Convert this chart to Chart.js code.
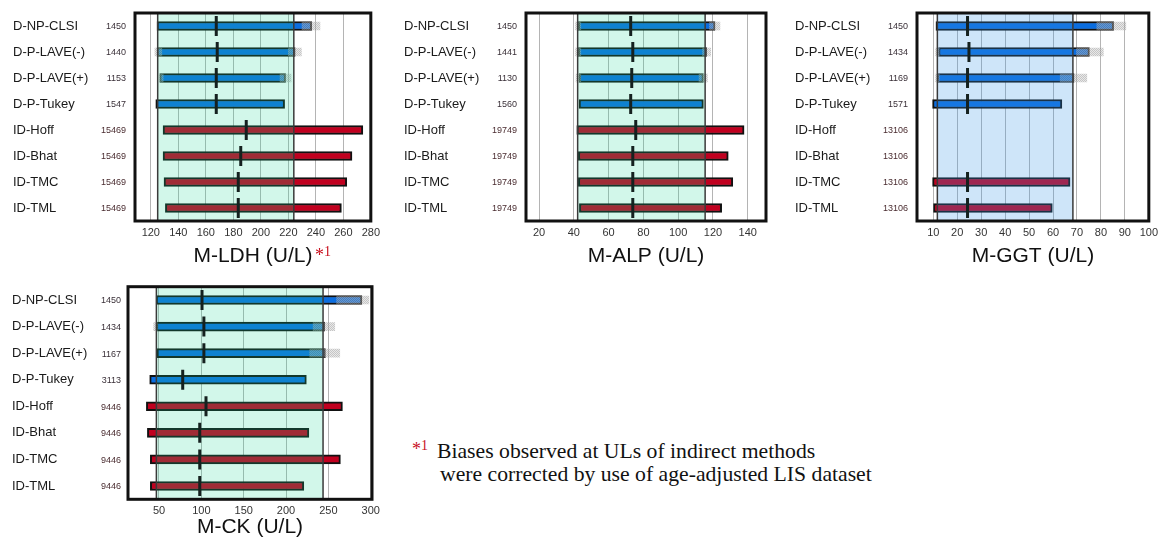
<!DOCTYPE html>
<html><head><meta charset="utf-8">
<script src="https://cdn.jsdelivr.net/npm/chart.js@4"></script>
<style>
body{margin:0;background:#fff;}
#wrap{position:relative;width:1163px;height:545px;overflow:hidden;background:#fff;}
.pane{position:absolute;}
.mark{position:absolute;font-family:"Liberation Serif","Times New Roman",serif;color:#c8101e;white-space:nowrap;}
.foot{position:absolute;font-family:"Liberation Serif","Times New Roman",serif;color:#111;white-space:nowrap;font-size:21.7px;line-height:22px;}
</style></head><body>
<div id="wrap">
  <div class="pane" style="left:0;top:0"><canvas id="c1" width="385" height="270"></canvas></div>
  <div class="pane" style="left:390px;top:0"><canvas id="c2" width="390" height="270"></canvas></div>
  <div class="pane" style="left:780px;top:0"><canvas id="c3" width="383" height="270"></canvas></div>
  <div class="pane" style="left:0;top:270px"><canvas id="c4" width="385" height="275"></canvas></div>
  <div class="mark" style="left:315px;top:245px;font-size:18px">*<span style="font-size:14px;position:relative;top:-5px">1</span></div>
  <div class="mark" style="left:412px;top:439px;font-size:18px">*<span style="font-size:14px;position:relative;top:-5px">1</span></div>
  <div class="foot" style="left:437px;top:440px">Biases observed at ULs of indirect methods</div>
  <div class="foot" style="left:440px;top:463px">were corrected by use of age-adjusted LIS dataset</div>
</div>
<script>
// ---------- data ----------
const categories = ['D-NP-CLSI','D-P-LAVE(-)','D-P-LAVE(+)','D-P-Tukey','ID-Hoff','ID-Bhat','ID-TMC','ID-TML'];

const ldhCounts = ['1450','1440','1153','1547','15469','15469','15469','15469'];
const ldhRange  = [[124.5,237],[124.5,225],[126.5,218],[123.6,217.3],[128.9,274.2],[128.9,266.3],[129.6,262.5],[130.6,258.6]];
const ldhMedian = [167.6,168.3,167.6,167.6,189.4,185.4,183.6,183.6];
const ldhCiLow  = [null,[123,128],[126.5,129],null,null,null,null,null];
const ldhCiHigh = [[230,243],[220,229.5],[214,222],null,null,null,null,null];
const ldhRef    = [125,224];
const ldhTicks  = [120,140,160,180,200,220,240,260,280];

const alpCounts = ['1450','1441','1130','1560','19749','19749','19749','19749'];
const alpRange  = [[42.6,121.2],[42.6,116.4],[43,114.5],[43,114.5],[41.7,137.9],[42.6,128.8],[42.6,131.4],[43.2,125]];
const alpMedian = [72.7,73.9,73.3,72.7,75.6,73.9,73.9,73.9];
const alpCiLow  = [[41,44],[41,44],[41.3,44],null,null,null,null,null];
const alpCiHigh = [[118,124],[114,118.7],[112,116.8],null,null,null,null,null];
const alpRef    = [42.2,115.5];
const alpTicks  = [20,40,60,80,100,120,140];

const ggtCounts = ['1450','1434','1169','1571','13106','13106','13106','13106'];
const ggtRange  = [[11.1,85.3],[12.2,75.2],[11.7,68.8],[9.7,63.7],null,null,[9.7,67.1],[10.1,59.7]];
const ggtMedian = [24.3,24.9,24.3,24.3,null,null,24.3,24.3];
const ggtCiLow  = [null,[11,12.5],[11,12.5],null,null,null,null,null];
const ggtCiHigh = [[78.3,90.4],[69.8,81],[63,74.1],null,null,null,null,null];
const ggtRef    = [11.7,68.3];
const ggtTicks  = [10,20,30,40,50,60,70,80,90,100];

const ckCounts = ['1450','1434','1167','3113','9446','9446','9446','9446'];
const ckRange  = [[46.6,289.6],[47,245.7],[47.6,246.5],[39,224],[35.1,266.6],[36.3,227],[39.8,264.2],[39.8,221]];
const ckMedian = [100.8,103,103,78,105.5,98.1,98.1,98.1];
const ckCiLow  = [null,[43.7,48],null,null,null,null,null,null];
const ckCiHigh = [[259.7,297.8],[232,257.5],[228,263.4],null,null,null,null,null];
const ckRef    = [46.9,243.7];
const ckTicks  = [50,100,150,200,250,300];

// ---------- styling / drawing ----------
Chart.defaults.font.family = '"Liberation Sans", Arial, sans-serif';
const BLUE = '#0a6de0', RED = '#c1001f';

function hatch() {
  const c = document.createElement('canvas'); c.width = 2; c.height = 2;
  const g = c.getContext('2d');
  g.fillStyle = 'rgba(140,140,140,0.5)'; g.fillRect(0,0,1,1); g.fillRect(1,1,1,1);
  g.fillStyle = 'rgba(205,205,205,0.45)'; g.fillRect(1,0,1,1); g.fillRect(0,1,1,1);
  return g.createPattern(c, 'repeat');
}

const decor = {
  id: 'decor',
  beforeDatasetDraw(chart, args, o) {
    if (args.index !== 3) return;
    const {ctx, chartArea: a, scales: {x}} = chart;
    const l = x.getPixelForValue(o.ref[0]), r = x.getPixelForValue(o.ref[1]);
    ctx.save();
    ctx.fillStyle = o.overlay;
    ctx.fillRect(l, a.top, r - l, a.bottom - a.top);
    ctx.strokeStyle = '#3a3a3a'; ctx.lineWidth = 1.5;
    ctx.beginPath();
    ctx.moveTo(l, a.top); ctx.lineTo(l, a.bottom);
    ctx.moveTo(r, a.top); ctx.lineTo(r, a.bottom);
    ctx.stroke();
    ctx.restore();
  },
  afterDraw(chart, args, o) {
    const {ctx, chartArea: a, scales: {y}} = chart;
    ctx.save();
    ctx.strokeStyle = '#111'; ctx.lineWidth = 3;
    ctx.strokeRect(a.left, a.top, a.right - a.left, a.bottom - a.top);
    ctx.font = '9px "Liberation Sans", Arial, sans-serif';
    ctx.textAlign = 'right'; ctx.textBaseline = 'middle';
    o.counts.forEach((t, i) => {
      ctx.fillStyle = categories[i].startsWith('ID') ? '#4a2c30' : '#3a3038';
      ctx.fillText(t, a.left - o.countGap, y.getPixelForValue(i) + 1);
    });
    ctx.restore();
  }
};

function panel(id, d, L) {
  const pat = hatch();
  new Chart(document.getElementById(id), {
    type: 'bar',
    data: {
      labels: categories,
      datasets: [
        {data: d.range, backgroundColor: categories.map(c => c.startsWith('ID') ? RED : BLUE),
         borderColor: '#111', borderWidth: 2, borderSkipped: false, barThickness: 9, grouped: false, order: 3},
        {data: d.ciLow, backgroundColor: pat, borderWidth: 0, barThickness: 8, grouped: false, order: 2},
        {data: d.ciHigh, backgroundColor: pat, borderWidth: 0, barThickness: 8, grouped: false, order: 2},
        {type: 'line', data: d.median, showLine: false, pointStyle: 'line', pointRotation: 90,
         pointRadius: 10, pointBorderWidth: 3, pointBorderColor: '#15211f', borderColor: '#15211f', order: 1}
      ]
    },
    options: {
      indexAxis: 'y', responsive: false, animation: false,
      events: [],
      layout: {padding: {left: L.padL, right: L.padR, top: L.padT, bottom: 0}},
      plugins: {legend: {display: false}, tooltip: {enabled: false},
        decor: {ref: d.ref, overlay: L.overlay, counts: d.counts, countGap: L.countGap}},
      scales: {
        y: {type: 'category', offset: true, grid: {display: false}, border: {display: false},
            ticks: {crossAlign: 'far', autoSkip: false, color: '#1a1a1a', font: {size: 13}, padding: 0},
            afterFit(s) { s.width = L.yWidth; }},
        x: {type: 'linear', min: L.min, max: L.max,
            afterBuildTicks(s) { s.ticks = d.ticks.map(v => ({value: v})); },
            grid: {color: '#b4b4b4', lineWidth: 1, drawTicks: false}, border: {display: false},
            ticks: {padding: 5, color: '#333', font: {size: 11}, maxRotation: 0, autoSkip: false},
            title: {display: true, text: d.title, color: '#111', font: {size: 21}, padding: {top: 0, bottom: L.titlePad}},
            afterFit(s) { s.height = L.xHeight; }}
      }
    },
    plugins: [decor]
  });
}

const MINT = 'rgba(30,215,150,0.2)', SKY = 'rgba(60,150,230,0.25)';
panel('c1', {range: ldhRange, median: ldhMedian, ciLow: ldhCiLow, ciHigh: ldhCiHigh, ref: ldhRef, ticks: ldhTicks, counts: ldhCounts, title: 'M-LDH (U/L)'},
  {padL: 13, padR: 12, padT: 9, yWidth: 122, xHeight: 49, titlePad: 1, min: 108.5, max: 280, overlay: MINT, countGap: 9});
panel('c2', {range: alpRange, median: alpMedian, ciLow: alpCiLow, ciHigh: alpCiHigh, ref: alpRef, ticks: alpTicks, counts: alpCounts, title: 'M-ALP (U/L)'},
  {padL: 14, padR: 14, padT: 9, yWidth: 122, xHeight: 49, titlePad: 1, min: 12.5, max: 150.5, overlay: MINT, countGap: 9});
panel('c3', {range: ggtRange, median: ggtMedian, ciLow: ggtCiLow, ciHigh: ggtCiHigh, ref: ggtRef, ticks: ggtTicks, counts: ggtCounts, title: 'M-GGT (U/L)'},
  {padL: 15, padR: 6.6, padT: 9, yWidth: 122, xHeight: 49, titlePad: 1, min: 3.2, max: 100, overlay: SKY, countGap: 9});
panel('c4', {range: ckRange, median: ckMedian, ciLow: ckCiLow, ciHigh: ckCiHigh, ref: ckRef, ticks: ckTicks, counts: ckCounts, title: 'M-CK (U/L)'},
  {padL: 12, padR: 12.7, padT: 16.7, yWidth: 116, xHeight: 45.7, titlePad: 5, min: 13.4, max: 301.5, overlay: MINT, countGap: 7});
</script>
</body></html>
